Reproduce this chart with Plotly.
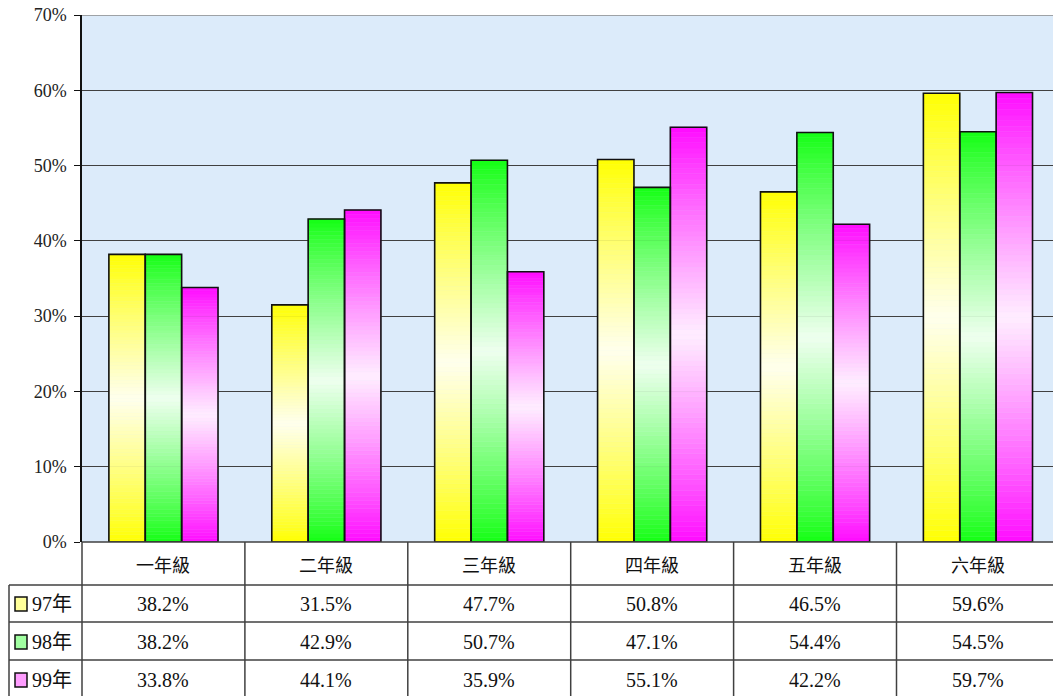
import plotly.graph_objects as go

categories = ["一年級", "二年級", "三年級", "四年級", "五年級", "六年級"]
series_names = ["97年", "98年", "99年"]
v97 = [38.2, 31.5, 47.7, 50.8, 46.5, 59.6]
v98 = [38.2, 42.9, 50.7, 47.1, 54.4, 54.5]
v99 = [33.8, 44.1, 35.9, 55.1, 42.2, 59.7]
y_ticks = [0, 10, 20, 30, 40, 50, 60, 70]

series_values = [v97, v98, v99]
base_colors = [(255, 255, 0), (20, 255, 20), (255, 10, 255)]

W, H = 1053, 696
FONT = "Liberation Serif, Noto Sans CJK TC, serif"
CJK = "Noto Sans CJK TC, Liberation Serif, sans-serif"


def mix(c, t):
    r, g, b = (int(round(ch + (255 - ch) * t)) for ch in c)
    return f"rgb({r},{g},{b})"


def px(p):
    return p / W


def py(p):
    return 1 - p / H


fig = go.Figure()
K = 80
n = len(categories)
x_idx = list(range(n))
for s, vals in enumerate(series_values):
    c = base_colors[s]
    for k in range(K):
        t = (k + 0.5) / K
        w = 0.93 * (1 - abs(2 * t - 1)) ** 0.9
        col = mix(c, w)
        fig.add_bar(
            x=x_idx,
            y=[v / K for v in vals],
            base=[v * k / K for v in vals],
            offsetgroup=str(s),
            marker=dict(color=col, line=dict(width=0.5, color=col)),
            showlegend=False,
            hoverinfo="skip",
        )
for s, vals in enumerate(series_values):
    fig.add_bar(
        x=x_idx,
        y=vals,
        offsetgroup=str(s),
        name=series_names[s],
        marker=dict(color="rgba(0,0,0,0)", line=dict(color="#111111", width=1.6)),
        showlegend=False,
    )

x0 = px(82)
cat_px = 162.9
plot_w = 1053 - 82
xmax = -0.5 + plot_w / cat_px

fig.update_layout(
    width=W,
    height=H,
    margin=dict(l=0, r=0, t=0, b=0, autoexpand=False),
    paper_bgcolor="white",
    plot_bgcolor="rgb(220,235,250)",
    barmode="group",
    bargap=0.33,
    bargroupgap=0,
    showlegend=False,
    xaxis=dict(
        domain=[x0, 1],
        range=[-0.5, xmax],
        showticklabels=False,
        showgrid=False,
        zeroline=False,
        showline=False,
        ticks="",
        automargin=False,
    ),
    yaxis=dict(
        domain=[py(542), py(15)],
        range=[0, 70],
        tickvals=y_ticks,
        ticktext=[f"{v}%" for v in y_ticks],
        showgrid=True,
        gridcolor="#404040",
        gridwidth=1,
        zeroline=False,
        showline=True,
        linecolor="#111111",
        linewidth=1.5,
        ticks="outside",
        ticklen=6,
        tickcolor="#111111",
        ticklabelstandoff=4,
        ticklabeloverflow="allow",
        tickfont=dict(family=FONT, size=18, color="#222222"),
        automargin=False,
    ),
)

line_style = dict(color="#404040", width=1.5)
shapes = []
shapes.append(dict(type="line", xref="paper", yref="y", x0=x0, x1=1, y0=y_ticks[-1], y1=y_ticks[-1],
                   line=dict(color="#8a8a8a", width=1.5), layer="above"))
shapes.append(dict(type="line", xref="paper", yref="paper", x0=x0, x1=1, y0=py(542), y1=py(542), line=line_style))
for yy in [585, 622, 660]:
    shapes.append(dict(type="line", xref="paper", yref="paper", x0=px(9), x1=1, y0=py(yy), y1=py(yy), line=line_style))
shapes.append(dict(type="line", xref="paper", yref="paper", x0=px(9), x1=px(9), y0=py(585), y1=0, line=line_style))
shapes.append(dict(type="line", xref="paper", yref="paper", x0=x0, x1=x0, y0=py(542), y1=0, line=line_style))
for i in range(n - 1):
    shapes.append(dict(type="line", xref="x", yref="paper", x0=i + 0.5, x1=i + 0.5, y0=py(542), y1=0, line=line_style))

annotations = []
for i, cat in enumerate(categories):
    annotations.append(dict(x=i, y=py(564), xref="x", yref="paper", xanchor="center", yanchor="middle",
                            text=cat, showarrow=False,
                            font=dict(family=CJK, size=18, color="#111111")))
row_centers = [604, 642, 680]
for s, vals in enumerate(series_values):
    yc = row_centers[s]
    for i, v in enumerate(vals):
        annotations.append(dict(x=i, y=py(yc), xref="x", yref="paper", xanchor="center", yanchor="middle",
                                text=f"{v:.1f}%", showarrow=False,
                                font=dict(family=FONT, size=20, color="#111111")))
    shapes.append(dict(type="rect", xref="paper", yref="paper", x0=px(15), x1=px(27),
                       y0=py(yc + 7), y1=py(yc - 7), fillcolor=mix(base_colors[s], 0.6),
                       line=dict(color="#111111", width=1.5)))
    annotations.append(dict(x=px(30), y=py(yc), xref="paper", yref="paper", xanchor="left", yanchor="middle",
                            text=series_names[s], showarrow=False,
                            font=dict(family=FONT, size=20, color="#111111")))

fig.update_layout(shapes=shapes, annotations=annotations)
fig.write_html(
    "out.html",
    config={"displayModeBar": False},
    post_script="document.body.style.margin='0px';document.body.style.overflow='hidden';",
)
